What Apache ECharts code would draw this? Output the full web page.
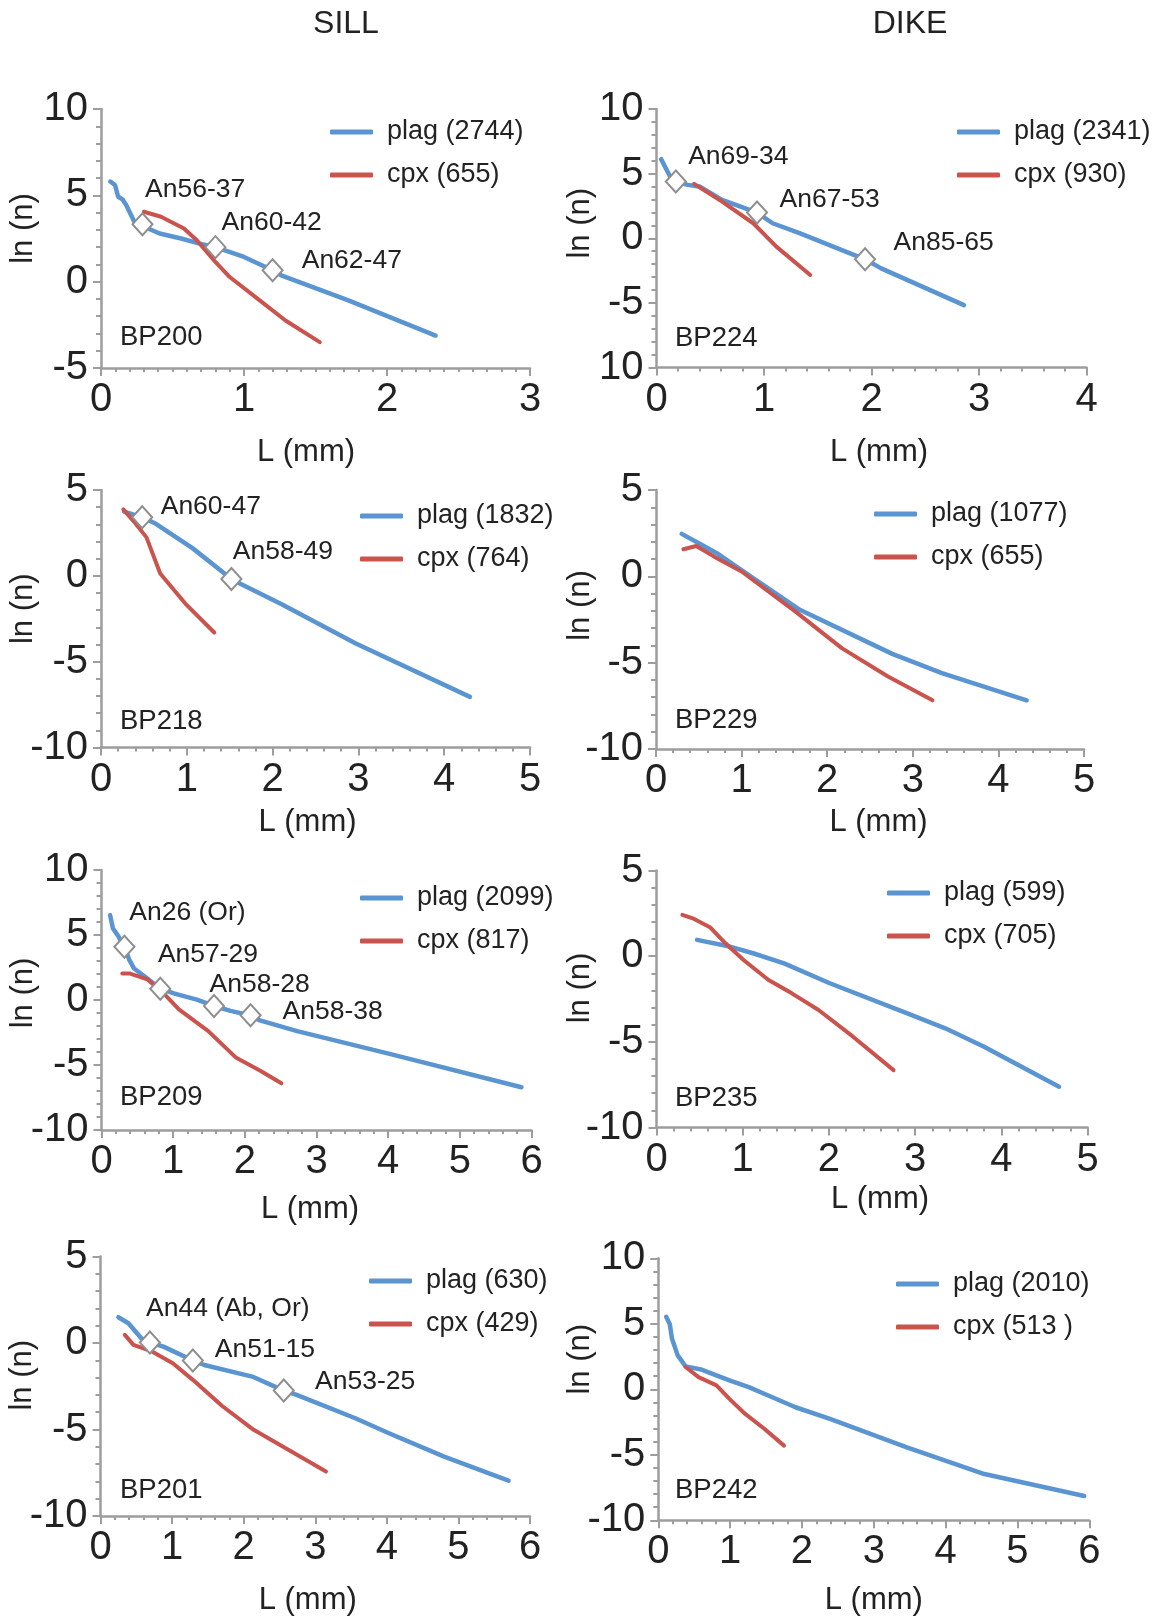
<!DOCTYPE html>
<html>
<head>
<meta charset="utf-8">
<script src="https://cdn.jsdelivr.net/npm/echarts@6/dist/echarts.min.js"></script>
<style>
html,body{margin:0;padding:0;background:#ffffff;}
#chart{width:1165px;height:1618px;}
</style>
</head>
<body>
<div id="chart"></div>
<script>
// ---------------- DATA ----------------
const columnTitles = ['SILL', 'DIKE'];
const xAxisTitle = 'L (mm)';
const yAxisTitle = 'ln (n)';

// BP200 (sill)
const bp200Plag = [[0.065,5.8],[0.098,5.6],[0.12,4.92],[0.15,4.77],[0.176,4.44],[0.233,3.47],[0.29,3.33],[0.33,3.08],[0.41,2.79],[0.56,2.5],[0.69,2.2],[0.80,2.0],[1.0,1.43],[1.2,0.66],[1.26,0.37],[1.73,-1.08],[2.34,-3.12]];
const bp200Cpx = [[0.30,4.05],[0.42,3.76],[0.58,3.08],[0.67,2.4],[0.80,1.14],[0.90,0.27],[1.11,-1.08],[1.29,-2.25],[1.53,-3.5]];
const bp200Markers = [[0.29,3.33],[0.80,2.0],[1.20,0.66]];
const bp200NotePos = [[0.305,5.3],[0.84,3.4],[1.40,1.24]];
const bp200NoteText = ['An56-37','An60-42','An62-47'];

// BP224 (dike)
const bp224Plag = [[0.043,6.12],[0.126,4.78],[0.18,4.39],[0.29,4.13],[0.40,4.0],[0.61,2.97],[0.935,1.99],[1.08,1.16],[1.33,0.39],[1.94,-1.63],[2.09,-2.33],[2.86,-5.17]];
const bp224Cpx = [[0.35,4.21],[0.61,2.84],[0.90,1.16],[1.115,-0.65],[1.43,-2.84]];
const bp224Markers = [[0.18,4.39],[0.935,1.99],[1.94,-1.63]];
const bp224NotePos = [[0.29,6.28],[1.14,3.02],[2.20,-0.34]];
const bp224NoteText = ['An69-34','An67-53','An85-65'];
const bp224YTickLabels = ['10','-5','0','5','10'];

// BP218 (sill)
const bp218Plag = [[0.27,3.74],[0.48,3.41],[0.64,3.03],[1.07,1.6],[1.52,-0.19],[1.63,-0.48],[2.10,-1.64],[2.97,-3.94],[4.30,-7.05]];
const bp218Cpx = [[0.26,3.87],[0.40,3.06],[0.53,2.24],[0.69,0.14],[0.98,-1.6],[1.32,-3.3]];
const bp218Markers = [[0.48,3.41],[1.52,-0.19]];
const bp218NotePos = [[0.69,4.03],[1.53,1.41]];
const bp218NoteText = ['An60-47','An58-49'];

// BP229 (dike)
const bp229Plag = [[0.30,2.46],[0.50,1.92],[0.71,1.34],[1.05,0.18],[1.68,-1.94],[2.76,-4.49],[3.34,-5.6],[4.33,-7.18]];
const bp229Cpx = [[0.32,1.57],[0.47,1.76],[0.68,1.14],[1.0,0.28],[1.63,-2.04],[2.17,-4.16],[2.71,-5.8],[3.23,-7.18]];

// BP209 (sill)
const bp209Plag = [[0.12,6.53],[0.16,5.5],[0.24,4.86],[0.32,4.09],[0.39,3.06],[0.455,2.42],[0.64,1.65],[0.82,0.87],[1.02,0.49],[1.33,0.03],[1.57,-0.46],[1.80,-0.84],[2.08,-1.18],[2.21,-1.57],[2.73,-2.39],[4.02,-4.14],[5.86,-6.71]];
const bp209Cpx = [[0.29,2.03],[0.40,2.03],[0.64,1.59],[0.87,0.49],[1.08,-0.72],[1.49,-2.39],[1.88,-4.45],[2.21,-5.42],[2.51,-6.4]];
const bp209Markers = [[0.32,4.09],[0.82,0.87],[1.57,-0.46],[2.08,-1.18]];
const bp209NotePos = [[0.38,6.71],[0.78,3.47],[1.50,1.21],[2.52,-0.9]];
const bp209NoteText = ['An26 (Or)','An57-29','An58-28','An58-38'];

// BP235 (dike)
const bp235Plag = [[0.47,0.95],[0.85,0.56],[1.12,0.17],[1.48,-0.42],[2.01,-1.58],[2.91,-3.34],[3.35,-4.21],[3.80,-5.29],[4.67,-7.62]];
const bp235Cpx = [[0.30,2.41],[0.42,2.21],[0.62,1.69],[0.80,0.75],[1.01,-0.22],[1.30,-1.39],[1.57,-2.17],[1.88,-3.14],[2.28,-4.70],[2.75,-6.65]];

// BP201 (sill)
const bp201Plag = [[0.25,1.49],[0.39,1.14],[0.57,0.28],[0.69,0.03],[0.88,-0.21],[1.29,-1.01],[1.45,-1.27],[2.12,-1.94],[2.56,-2.75],[2.74,-3.0],[3.56,-4.35],[4.03,-5.22],[4.80,-6.57],[5.70,-7.96]];
const bp201Cpx = [[0.34,0.47],[0.46,-0.11],[0.72,-0.49],[1.01,-1.17],[1.29,-2.13],[1.70,-3.64],[2.14,-5.02],[2.63,-6.18],[3.15,-7.43]];
const bp201Markers = [[0.69,0.03],[1.29,-1.01],[2.56,-2.75]];
const bp201NotePos = [[0.63,2.01],[1.59,-0.4],[2.99,-2.23]];
const bp201NoteText = ['An44 (Ab, Or)','An51-15','An53-25'];

// BP242 (dike)
const bp242Plag = [[0.11,5.53],[0.16,4.97],[0.19,3.87],[0.27,2.59],[0.38,1.75],[0.61,1.49],[0.99,0.68],[1.26,0.17],[1.53,-0.47],[1.91,-1.37],[2.39,-2.26],[3.46,-4.43],[4.54,-6.47],[5.93,-8.14]];
const bp242Cpx = [[0.38,1.70],[0.56,0.93],[0.81,0.3],[0.99,-0.73],[1.21,-1.88],[1.48,-3.03],[1.75,-4.30]];

const sampleNames = ['BP200','BP224','BP218','BP229','BP209','BP235','BP201','BP242'];
const plagNames = ['plag (2744)','plag (2341)','plag (1832)','plag (1077)','plag (2099)','plag (599)','plag (630)','plag (2010)'];
const cpxNames  = ['cpx (655)','cpx (930)','cpx (764)','cpx (655)','cpx (817)','cpx (705)','cpx (429)','cpx (513 )'];
const xMaxes = [3,4,5,5,6,5,6,6];
const yMins  = [-5,-10,-10,-10,-10,-10,-10,-10];
const yMaxes = [10,10,5,5,10,5,5,10];

const panels = [
  {plag:bp200Plag, cpx:bp200Cpx, markers:bp200Markers, notePos:bp200NotePos, noteText:bp200NoteText},
  {plag:bp224Plag, cpx:bp224Cpx, markers:bp224Markers, notePos:bp224NotePos, noteText:bp224NoteText, yTickLabels:bp224YTickLabels},
  {plag:bp218Plag, cpx:bp218Cpx, markers:bp218Markers, notePos:bp218NotePos, noteText:bp218NoteText},
  {plag:bp229Plag, cpx:bp229Cpx},
  {plag:bp209Plag, cpx:bp209Cpx, markers:bp209Markers, notePos:bp209NotePos, noteText:bp209NoteText},
  {plag:bp235Plag, cpx:bp235Cpx},
  {plag:bp201Plag, cpx:bp201Cpx, markers:bp201Markers, notePos:bp201NotePos, noteText:bp201NoteText},
  {plag:bp242Plag, cpx:bp242Cpx}
];

// ---------------- LAYOUT / STYLE ----------------
const FONT = '"Liberation Sans", Arial, Helvetica, sans-serif';
const TEXT = '#222222';
const AXIS = '#9d9d9d';
const BLUE = '#5a95d2';
const RED = '#cb534d';

// grid [left, top, width, height], legend [left, top], sample label [x, y], name gaps/shifts
const layout = [
  {grid:[101,109,429,259],     legend:[330,117],  bp:[120,337],  xGap:84, xShift:-9.5, yGap:78, yShift:10, xMinor:10},
  {grid:[656.5,109,430,258.5], legend:[957,117],  bp:[675,338],  xGap:85, xShift:7.5,  yGap:76, yShift:15, xMinor:5},
  {grid:[101,490,429,257.5],   legend:[360,501],  bp:[120,721],  xGap:75, xShift:-8,   yGap:78, yShift:10, xMinor:5},
  {grid:[656,490,428,259],     legend:[874,499],  bp:[675,720],  xGap:73, xShift:8.5,  yGap:76, yShift:14, xMinor:5},
  {grid:[101.5,870,430,260],   legend:[360,883],  bp:[120,1097], xGap:79, xShift:-6.5, yGap:78, yShift:7,  xMinor:5},
  {grid:[656.5,870.5,431,257], legend:[887,878],  bp:[675,1098], xGap:72, xShift:8,    yGap:76, yShift:11, xMinor:5},
  {grid:[100.5,1256.5,429.5,259.5], legend:[369,1266], bp:[120,1490], xGap:84, xShift:-7.5, yGap:78, yShift:11, xMinor:5},
  {grid:[658.3,1258.3,431,262], legend:[896,1269], bp:[675,1490], xGap:80, xShift:0,   yGap:78, yShift:30, xMinor:5}
];

const grids = [], xAxes = [], yAxes = [], series = [], legends = [], graphics = [];

graphics.push({type:'text', x:346, y:24, style:{text:columnTitles[0], fontSize:32, fontFamily:FONT, fill:TEXT, align:'center', verticalAlign:'middle'}});
graphics.push({type:'text', x:910, y:24, style:{text:columnTitles[1], fontSize:32, fontFamily:FONT, fill:TEXT, align:'center', verticalAlign:'middle'}});

panels.forEach((p, i) => {
  const L = layout[i];
  grids.push({left:L.grid[0], top:L.grid[1], width:L.grid[2], height:L.grid[3], containLabel:false, outerBoundsMode:'none'});
  const xs = L.xShift;
  xAxes.push({
    gridIndex:i, type:'value', min:0, max:xMaxes[i], interval:1,
    axisLine:{show:true, onZero:false, lineStyle:{color:AXIS, width:2.5}},
    axisTick:{show:true, length:8, lineStyle:{color:AXIS, width:2}},
    minorTick:{show:true, splitNumber:L.xMinor, length:4, lineStyle:{color:AXIS, width:2}},
    splitLine:{show:false}, minorSplitLine:{show:false},
    axisLabel:{fontSize:40, color:TEXT, fontFamily:FONT, margin:12},
    name:xAxisTitle, nameLocation:'middle', nameGap:L.xGap, nameMoveOverlap:false,
    nameTextStyle:{fontSize:31, color:TEXT, fontFamily:FONT, verticalAlign:'middle',
      padding: xs < 0 ? [0, -2*xs, 0, 0] : [0, 0, 0, 2*xs]}
  });
  const yl = p.yTickLabels;
  const ymin = yMins[i];
  yAxes.push({
    gridIndex:i, type:'value', min:ymin, max:yMaxes[i], interval:5,
    axisLine:{show:true, onZero:false, lineStyle:{color:AXIS, width:2.5}},
    axisTick:{show:true, length:8, lineStyle:{color:AXIS, width:2}},
    minorTick:{show:true, splitNumber:5, length:5, lineStyle:{color:AXIS, width:2}},
    splitLine:{show:false}, minorSplitLine:{show:false},
    axisLabel:{fontSize:40, color:TEXT, fontFamily:FONT, margin:13,
      formatter: yl ? (v => yl[Math.round((v - ymin) / 5)]) : (v => String(v))},
    name:yAxisTitle, nameLocation:'middle', nameGap:L.yGap, nameRotate:90, nameMoveOverlap:false,
    nameTextStyle:{fontSize:31, color:TEXT, fontFamily:FONT, verticalAlign:'middle', padding:[0,0,0,2*L.yShift]}
  });
  series.push({type:'line', name:plagNames[i], xAxisIndex:i, yAxisIndex:i, data:p.plag,
    symbol:'none', showSymbol:false, smooth:false, color:BLUE,
    lineStyle:{width:4.5, color:BLUE, cap:'round', join:'round'}, z:2, silent:true});
  series.push({type:'line', name:cpxNames[i], xAxisIndex:i, yAxisIndex:i, data:p.cpx,
    symbol:'none', showSymbol:false, smooth:false, color:RED,
    lineStyle:{width:4, color:RED, cap:'round', join:'round'}, z:3, silent:true});
  if (p.markers) {
    series.push({type:'scatter', name:'_markers'+i, xAxisIndex:i, yAxisIndex:i, data:p.markers,
      symbol:'diamond', symbolSize:[20,22],
      itemStyle:{color:'#ffffff', borderColor:'#8e8e8e', borderWidth:2, opacity:1}, z:5, silent:true});
  }
  if (p.notePos) {
    series.push({type:'scatter', name:'_notes'+i, xAxisIndex:i, yAxisIndex:i,
      data:p.notePos.map((v,k) => ({name:p.noteText[k], value:v})),
      symbolSize:1, itemStyle:{color:'rgba(0,0,0,0)'},
      label:{show:true, position:'right', distance:0, formatter:'{b}', fontSize:26.5, color:TEXT,
        fontFamily:FONT, opacity:1, textBorderWidth:0},
      emphasis:{disabled:true},
      z:6, silent:true});
  }
  legends.push({
    left:L.legend[0], top:L.legend[1], orient:'vertical', padding:0,
    itemWidth:43, itemHeight:5, itemGap:13, icon:'roundRect', symbolKeepAspect:false,
    selectedMode:false, data:[plagNames[i], cpxNames[i]],
    textStyle:{fontSize:27, lineHeight:30, color:TEXT, fontFamily:FONT, padding:[0,0,0,9]}
  });
  graphics.push({type:'text', x:L.bp[0], y:L.bp[1],
    style:{text:sampleNames[i], fontSize:27.5, fontFamily:FONT, fill:TEXT, align:'left', verticalAlign:'middle'}});
});

const chart = echarts.init(document.getElementById('chart'), null, {renderer:'canvas'});
chart.setOption({
  animation:false,
  backgroundColor:'#ffffff',
  grid:grids, xAxis:xAxes, yAxis:yAxes, series:series, legend:legends, graphic:graphics
});
</script>
</body>
</html>
